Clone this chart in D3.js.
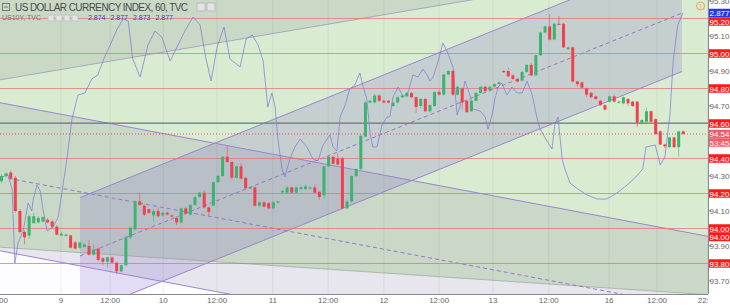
<!DOCTYPE html>
<html>
<head>
<meta charset="utf-8">
<script src="https://cdn.jsdelivr.net/npm/d3@7"></script>
<style>
  body { margin: 0; background: #fff; }
  svg { display: block; font-family: "Liberation Sans", Arial, sans-serif; }
</style>
</head>
<body>
<svg id="chart"></svg>
<script>
// hourly candles, [open, high, low, close]
const candles = [
  [94.27,94.31,94.26,94.30],[94.30,94.32,94.29,94.315],[94.32,94.33,94.28,94.285],[94.29,94.30,94.09,94.10],
  [94.10,94.11,93.97,93.98],[93.98,93.99,93.91,93.95],[93.96,94.08,93.94,94.07],[94.03,94.09,94.03,94.07],
  [94.035,94.07,94.03,94.06],[94.04,94.07,94.035,94.065],[94.05,94.06,94.03,94.035],[94.04,94.05,94.00,94.01],
  [94.01,94.02,93.96,93.965],[93.96,93.98,93.955,93.97],[93.96,93.97,93.955,93.965],[93.96,93.965,93.885,93.89],
  [93.92,93.93,93.88,93.885],[93.89,93.925,93.885,93.92],[93.895,93.915,93.89,93.91],[93.90,93.935,93.845,93.85],
  [93.85,93.91,93.845,93.88],[93.885,93.89,93.81,93.82],[93.83,93.835,93.79,93.81],[93.81,93.84,93.776,93.835],
  [93.835,93.84,93.80,93.805],[93.805,93.81,93.74,93.755],[93.755,93.795,93.75,93.79],[93.79,93.96,93.785,93.95],
  [93.95,94.01,93.94,94.005],[93.995,94.16,93.99,94.155],[94.155,94.205,94.13,94.135],[94.13,94.14,94.07,94.08],
  [94.11,94.115,94.085,94.09],[94.075,94.11,94.04,94.10],[94.10,94.12,94.065,94.07],[94.075,94.095,94.07,94.09],
  [94.09,94.095,94.075,94.08],[94.075,94.08,94.065,94.07],[94.06,94.07,94.02,94.035],[94.035,94.12,94.03,94.115],
  [94.115,94.125,94.08,94.085],[94.08,94.14,94.07,94.135],[94.135,94.185,94.13,94.18],[94.18,94.21,94.175,94.205],
  [94.205,94.22,94.115,94.12],[94.12,94.125,94.07,94.095],[94.13,94.27,94.125,94.265],[94.265,94.305,94.26,94.30],
  [94.30,94.415,94.295,94.41],[94.41,94.47,94.375,94.38],[94.38,94.385,94.28,94.29],[94.29,94.36,94.285,94.355],
  [94.355,94.37,94.28,94.285],[94.29,94.295,94.225,94.23],[94.23,94.24,94.225,94.235],[94.235,94.24,94.125,94.13],
  [94.13,94.155,94.125,94.15],[94.15,94.155,94.12,94.125],[94.145,94.15,94.11,94.115],[94.115,94.155,94.11,94.15],
  [94.15,94.16,94.145,94.155],[94.205,94.22,94.20,94.215],[94.205,94.24,94.20,94.235],[94.235,94.24,94.20,94.205],
  [94.205,94.24,94.20,94.235],[94.225,94.245,94.22,94.235],[94.225,94.25,94.22,94.24],[94.23,94.24,94.225,94.235],
  [94.235,94.25,94.20,94.205],[94.21,94.215,94.165,94.18],[94.19,94.36,94.17,94.355],[94.355,94.42,94.35,94.41],
  [94.41,94.415,94.365,94.37],[94.40,94.43,94.36,94.365],[94.40,94.41,94.11,94.115],[94.115,94.16,94.11,94.155],
  [94.155,94.305,94.15,94.30],[94.30,94.345,94.295,94.34],[94.34,94.535,94.335,94.53],[94.525,94.73,94.52,94.72],
  [94.72,94.735,94.715,94.73],[94.72,94.77,94.715,94.76],[94.76,94.765,94.725,94.73],[94.73,94.735,94.715,94.72],
  [94.73,94.735,94.715,94.72],[94.70,94.725,94.695,94.72],[94.72,94.755,94.715,94.75],[94.75,94.765,94.745,94.76],
  [94.755,94.78,94.75,94.775],[94.775,94.78,94.745,94.75],[94.75,94.755,94.66,94.695],[94.70,94.745,94.69,94.74],
  [94.74,94.745,94.665,94.67],[94.67,94.71,94.665,94.705],[94.70,94.785,94.695,94.78],[94.78,94.79,94.76,94.765],
  [94.765,94.885,94.76,94.88],[94.88,94.905,94.875,94.90],[94.90,94.905,94.76,94.765],[94.765,94.815,94.76,94.81],
  [94.80,94.805,94.68,94.72],[94.73,94.735,94.66,94.665],[94.67,94.735,94.665,94.73],[94.73,94.78,94.725,94.775],
  [94.775,94.815,94.77,94.81],[94.81,94.815,94.78,94.785],[94.79,94.815,94.785,94.81],[94.81,94.83,94.805,94.825],
  [94.825,94.84,94.82,94.835],[94.90,94.905,94.89,94.895],[94.90,94.92,94.865,94.87],[94.875,94.88,94.85,94.855],
  [94.855,94.86,94.835,94.84],[94.845,94.90,94.84,94.895],[94.895,94.94,94.89,94.935],[94.935,94.945,94.87,94.875],
  [94.875,94.995,94.87,94.99],[94.99,95.125,94.985,95.12],[95.12,95.16,95.115,95.155],[95.155,95.225,95.075,95.08],
  [95.08,95.175,95.075,95.17],[95.17,95.215,95.165,95.168],[95.17,95.175,95.03,95.035],[95.025,95.04,95.02,95.035],
  [95.035,95.04,94.835,94.84],[94.84,94.845,94.81,94.825],[94.835,94.84,94.80,94.805],[94.80,94.805,94.75,94.765],
  [94.775,94.78,94.745,94.75],[94.755,94.76,94.735,94.74],[94.73,94.735,94.70,94.705],[94.705,94.71,94.675,94.68],
  [94.725,94.76,94.72,94.755],[94.755,94.765,94.72,94.725],[94.72,94.73,94.715,94.725],[94.715,94.755,94.71,94.75],
  [94.74,94.745,94.70,94.715],[94.725,94.73,94.695,94.70],[94.725,94.73,94.58,94.605],[94.60,94.625,94.595,94.62],
  [94.61,94.69,94.605,94.67],[94.67,94.675,94.605,94.61],[94.625,94.63,94.535,94.54],[94.555,94.56,94.475,94.48],
  [94.48,94.485,94.46,94.47],[94.465,94.525,94.46,94.52],[94.52,94.525,94.46,94.465],[94.465,94.56,94.41,94.555],
  [94.555,94.56,94.535,94.54]
];

// US10Y overlay, [bar index, yield]
const us10y = [
  [0.1,2.795],[1.4,2.796],[2.3,2.789],[2.9,2.752],[3.6,2.762],[4.7,2.768],[5.8,2.782],[6.6,2.778],[6.8,2.783],
  [7.7,2.791],[8.4,2.788],[9.0,2.779],[9.9,2.768],[11.2,2.770],[12.3,2.775],[13.1,2.787],[14.2,2.804],[15.3,2.824],
  [16.6,2.836],[18.1,2.837],[19.6,2.844],[20.9,2.846],[22.2,2.854],[23.6,2.861],[25.1,2.869],[26.4,2.874],
  [27.5,2.873],[28.5,2.854],[30.1,2.845],[31.8,2.861],[33.3,2.868],[34.8,2.865],[36.6,2.853],[38.1,2.860],
  [39.8,2.868],[41.6,2.875],[43.1,2.871],[44.4,2.854],[45.5,2.843],[46.8,2.860],[48.3,2.870],[49.6,2.854],
  [51.8,2.850],[53.1,2.864],[54.4,2.866],[55.7,2.861],[56.8,2.853],[57.8,2.830],[58.7,2.837],[59.4,2.830],
  [60.0,2.814],[60.9,2.799],[61.5,2.795],[62.6,2.804],[63.7,2.810],[64.8,2.814],[66.3,2.810],[67.6,2.804],
  [68.7,2.803],[69.8,2.811],[71.3,2.816],[72.0,2.810],[72.8,2.808],[73.5,2.825],[74.6,2.831],[75.6,2.839],
  [76.7,2.841],[77.8,2.847],[78.5,2.840],[79.3,2.834],[80.0,2.817],[80.6,2.810],[81.5,2.810],[82.6,2.821],
  [83.7,2.825],[84.3,2.825],[85.0,2.835],[86.1,2.840],[87.2,2.835],[88.2,2.837],[89.3,2.846],[90.4,2.845],
  [91.5,2.849],[92.4,2.846],[93.0,2.843],[93.7,2.845],[94.8,2.853],[95.8,2.862],[96.7,2.858],[98.0,2.850],
  [98.9,2.826],[99.5,2.830],[100.6,2.843],[101.7,2.836],[102.3,2.829],[103.9,2.828],[105.0,2.825],[105.6,2.819],
  [106.5,2.826],[107.1,2.834],[107.8,2.840],[108.6,2.842],[109.7,2.836],[110.8,2.840],[111.9,2.837],[113.0,2.837],
  [114.1,2.843],[115.2,2.836],[116.2,2.825],[116.9,2.819],[118.4,2.813],[119.5,2.809],[120.1,2.821],[120.8,2.825],
  [121.7,2.804],[122.3,2.799],[123.4,2.792],[125.1,2.789],[127.1,2.786],[129.3,2.784],[131.4,2.784],[133.6,2.787],
  [135.8,2.791],[137.7,2.795],[139.2,2.799],[139.9,2.810],[141.9,2.811],[143.0,2.801],[144.0,2.805],[145.1,2.826],
  [145.8,2.853],[146.8,2.871],[147.9,2.877]
];

const tickIdx = [-0.8, 12.9, 23.6, 35.1, 46.8, 58.9, 70.9, 83, 95, 106.7, 118.8, 131.9, 142.3, 153.3];
const tickLabels = ["12:00","9","12:00","10","12:00","11","12:00","12","12:00","13","12:00","16","12:00","22:00"];

const levels = [95.20, 95.00, 94.80, 94.60, 94.40, 94.20, 94.00, 93.80];
const priceTicks = [95.30, 95.10, 94.90, 94.70, 94.50, 94.30, 94.10, 93.90, 93.70];
const lastPrice = 94.54;
const lastYield = 2.877;
const countdown = "53:45";
const legendValues = ["2.874", "2.877", "2.873", "2.877"];

// drawing tools, anchors as [bar index, price]
const upChannel = { from: [17.04, 93.843], to: [147.7, 95.231], half: 0.334 };
const downChannel = { from: [-2, 94.304], to: [156, 93.519], half: 0.423 };
const topZone = { from: [-2, 94.842], to: [102, 95.306] };
const greenEdge = { from: [-2, 93.896], to: [156, 93.617] };

const W = 730, H = 305, PW = 708, PH = 294;

const svg = d3.select("#chart").attr("width", W).attr("height", H);

const x = d3.scaleLinear().domain([0, candles.length - 1]).range([1.5, 683.3]);
const y = d3.scaleLinear().domain([93.70, 95.30]).range([281, 1]);
const y2 = d3.scaleLinear().domain([2.74, 2.88]).range([287, 7]);

const defs = svg.append("defs");
defs.append("clipPath").attr("id", "plot").append("rect").attr("width", PW).attr("height", PH);
defs.append("clipPath").attr("id", "xclip")
  .append("rect").attr("x", 0).attr("y", PH).attr("width", PW).attr("height", H - PH);

const plot = svg.append("g").attr("clip-path", "url(#plot)");
plot.append("rect").attr("width", PW).attr("height", PH).attr("fill", "#fdfcff");

const lineAt = (a, b, off) => i => a[1] + off + (b[1] - a[1]) * (i - a[0]) / (b[0] - a[0]);
const xs = [-4, 160];
const pt = (i, p) => [x(i), y(p)];
const poly = pts => "M" + pts.map(p => p.join(",")).join("L") + "Z";
const band = (top, bot, a, b) => poly([pt(a, top(a)), pt(b, top(b)), pt(b, bot(b)), pt(a, bot(a))]);
const sky = () => 96;

// green backdrop
const gEdge = lineAt(greenEdge.from, greenEdge.to, 0);
plot.append("path").attr("d", band(sky, gEdge, xs[0], xs[1])).attr("fill", "#d9ecd1");

// top-left zone
const tz = lineAt(topZone.from, topZone.to, 0);
plot.append("path").attr("d", band(sky, tz, xs[0], xs[1])).attr("fill", "rgba(120,120,140,0.16)");

// falling channel
const dUp = lineAt(downChannel.from, downChannel.to, downChannel.half);
const dMid = lineAt(downChannel.from, downChannel.to, 0);
const dLow = lineAt(downChannel.from, downChannel.to, -downChannel.half);
plot.append("path").attr("d", band(dUp, dLow, xs[0], xs[1])).attr("fill", "rgba(120,110,150,0.16)");

// rising channel
const uUp = lineAt(upChannel.from, upChannel.to, upChannel.half);
const uMid = lineAt(upChannel.from, upChannel.to, 0);
const uLow = lineAt(upChannel.from, upChannel.to, -upChannel.half);
const u0 = upChannel.from[0], u1 = upChannel.to[0];
plot.append("path").attr("d", band(uUp, uLow, u0, u1)).attr("fill", "rgba(125,95,200,0.2)");

// vertical grid
plot.selectAll("line.vg").data(tickIdx).join("line")
  .attr("x1", d => x(d)).attr("x2", d => x(d)).attr("y1", 0).attr("y2", PH)
  .attr("stroke", "rgba(0,0,0,0.06)");

// channel lines
const seg = (f, a, b, dash, col) => plot.append("line")
  .attr("x1", x(a)).attr("y1", y(f(a))).attr("x2", x(b)).attr("y2", y(f(b)))
  .attr("stroke", col).attr("stroke-width", 1).attr("stroke-dasharray", dash);
seg(gEdge, xs[0], xs[1], null, "rgba(140,160,140,0.6)");
seg(tz, xs[0], xs[1], null, "rgba(130,110,180,0.5)");
seg(dUp, xs[0], xs[1], null, "#9c84cf");
seg(dLow, xs[0], xs[1], null, "#9c84cf");
seg(dMid, 1.5, xs[1], "4,3", "#9575cd");
seg(uUp, u0, u1, null, "#9c84cf");
seg(uLow, u0, u1, null, "#9c84cf");
seg(uMid, u0, u1, "4,3", "#9575cd");

// horizontal levels
plot.append("line").attr("x1", 0).attr("x2", PW).attr("y1", y(94.60) - 0.5).attr("y2", y(94.60) - 0.5)
  .attr("stroke", "#5f5f5f").attr("stroke-opacity", 0.8);
plot.selectAll("line.lvl").data(levels).join("line")
  .attr("x1", 0).attr("x2", PW).attr("y1", d => y(d)).attr("y2", d => y(d))
  .attr("stroke", d => d === 94.60 ? "#ef5350" : "#e57373")
  .attr("stroke-opacity", d => d === 94.60 ? 0.8 : 0.75).attr("stroke-width", 1.2);
plot.append("line").attr("x1", 0).attr("x2", PW).attr("y1", y(lastPrice)).attr("y2", y(lastPrice))
  .attr("stroke", "#ef5350").attr("stroke-dasharray", "1,2");

// US10Y line
plot.append("path")
  .attr("d", d3.line().x(d => x(d[0])).y(d => y2(d[1]))(us10y))
  .attr("fill", "none").attr("stroke", "#7b7fd8").attr("stroke-opacity", 0.75).attr("stroke-width", 1);

// candles
const up = "#3cb371", dn = "#f0414c";
const cg = plot.append("g");
cg.selectAll("line").data(candles).join("line")
  .attr("x1", (d, i) => x(i)).attr("x2", (d, i) => x(i))
  .attr("y1", d => y(d[1])).attr("y2", d => y(d[2]))
  .attr("stroke", d => d[3] >= d[0] ? up : dn).attr("stroke-opacity", 0.55);
cg.selectAll("rect").data(candles).join("rect")
  .attr("x", (d, i) => x(i) - 1.5).attr("width", 3)
  .attr("y", d => y(Math.max(d[0], d[3])))
  .attr("height", d => Math.max(1.2, Math.abs(y(d[0]) - y(d[3]))))
  .attr("fill", d => d[3] >= d[0] ? up : dn);

// axes frame
svg.append("line").attr("x1", PW + 0.5).attr("x2", PW + 0.5).attr("y1", 0).attr("y2", PH)
  .attr("stroke", "#8a8a8a");
svg.append("line").attr("x1", 0).attr("x2", PW).attr("y1", PH + 0.5).attr("y2", PH + 0.5)
  .attr("stroke", "#8a8a8a");

// bottom axis
svg.append("g").attr("clip-path", "url(#xclip)")
  .selectAll("text").data(tickIdx).join("text")
  .attr("x", d => x(d)).attr("y", 303).attr("text-anchor", "middle")
  .attr("font-size", 8).attr("fill", "#666").text((d, i) => tickLabels[i]);

// right axis tags, pushed apart like the platform does
const tags = [
  ...levels.map(v => ({ y: y(v), txt: v.toFixed(2), bg: "#ff1a1a" })),
  { y: y(94.00), txt: (94.00).toFixed(2), bg: "#ff1a1a" },
  { y: y2(lastYield), txt: lastYield.toFixed(3), bg: "#2438e8" },
  { y: y(lastPrice), txt: lastPrice.toFixed(2), bg: "#f25c68" },
  { y: y(lastPrice), txt: countdown, bg: "#f25c68" }
].sort((a, b) => a.y - b.y);
const TH = 8.5;
tags.forEach((t, i) => { if (i && t.y < tags[i - 1].y + TH) t.y = tags[i - 1].y + TH; });

const ra = svg.append("g");
const free = priceTicks.filter(v => tags.every(t => Math.abs(t.y - y(v)) > TH));
ra.selectAll("line").data(free).join("line")
  .attr("x1", PW).attr("x2", PW + 3).attr("y1", d => y(d)).attr("y2", d => y(d)).attr("stroke", "#8a8a8a");
ra.selectAll("text.g").data(free).join("text")
  .attr("x", 719.5).attr("y", d => y(d) + 3).attr("text-anchor", "middle")
  .attr("font-size", 8).attr("fill", "#666").text(d => d.toFixed(2));
const tg = ra.selectAll("g.tag").data(tags).join("g");
tg.append("rect").attr("x", 709).attr("y", d => d.y - TH / 2).attr("width", 21).attr("height", TH)
  .attr("fill", d => d.bg);
tg.append("text").attr("x", 719.5).attr("y", d => d.y + 3).attr("text-anchor", "middle")
  .attr("font-size", 8).attr("fill", "#fff").text(d => d.txt);

// alert icon
svg.append("circle").attr("cx", 700.5).attr("cy", 6).attr("r", 4).attr("fill", "none")
  .attr("stroke", "#f5a04a").attr("stroke-width", 1);
svg.append("text").attr("x", 700.5).attr("y", 8.6).attr("text-anchor", "middle")
  .attr("font-size", 7).attr("fill", "#f5a04a").text("!");

// legend
const lg = svg.append("g");
lg.append("rect").attr("x", 2.5).attr("y", 3.5).attr("width", 7).attr("height", 7)
  .attr("fill", "none").attr("stroke", "#777");
lg.append("line").attr("x1", 4).attr("x2", 8).attr("y1", 7).attr("y2", 7).attr("stroke", "#777");
lg.append("text").attr("x", 15).attr("y", 10.5).attr("font-size", 10).attr("fill", "#4a4a4a")
  .attr("textLength", 173).text("US DOLLAR CURRENCY INDEX, 60, TVC");
[197, 207].forEach(px => lg.append("rect").attr("x", px).attr("y", 3).attr("width", 8).attr("height", 8)
  .attr("fill", "#e4e4e4").attr("stroke", "#bbb"));
lg.append("text").attr("x", 2).attr("y", 20).attr("font-size", 7).attr("fill", "#777").text("US10Y, TVC");
[48, 56, 64, 72].forEach(px => lg.append("rect").attr("x", px).attr("y", 15).attr("width", 6).attr("height", 6)
  .attr("fill", "#e4e4e4").attr("stroke", "#c4c4c4"));
lg.selectAll("text.v").data(legendValues).join("text")
  .attr("x", (d, i) => 88 + i * 22.5).attr("y", 20).attr("font-size", 7).attr("fill", "#3a3ae0").text(d => d);
</script>
</body>
</html>
